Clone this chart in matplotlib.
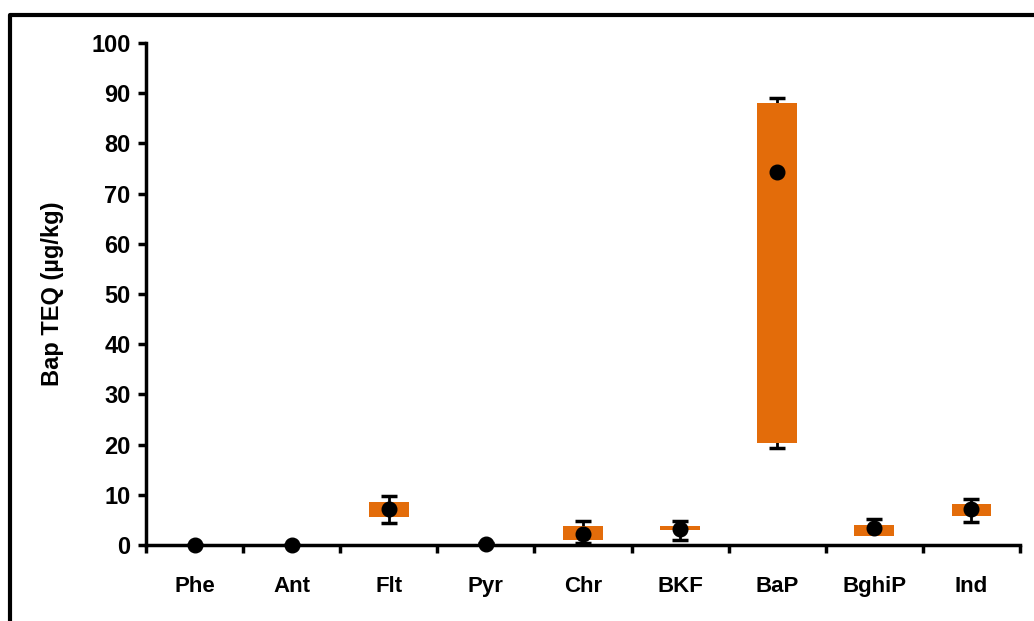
import matplotlib
matplotlib.use("Agg")
import matplotlib.pyplot as plt
from matplotlib.lines import Line2D
import numpy as np

# PAH compounds and their BaP TEQ statistics (ug/kg)
compuestos = ["Phe", "Ant", "Flt", "Pyr", "Chr", "BKF", "BaP", "BghiP", "Ind"]
q_inf = [0.0, 0.0, 5.6, 0.0, 0.9, 2.9, 20.3, 1.7, 5.8]
q_sup = [0.0, 0.0, 8.6, 0.0, 3.8, 3.8, 88.0, 4.0, 8.2]
minimo = [0.0, 0.0, 4.4, 0.1, 0.4, 1.0, 19.4, 2.6, 4.6]
maximo = [0.0, 0.0, 9.8, 0.3, 4.8, 4.8, 89.0, 5.2, 9.2]
media = [0.0, 0.0, 7.2, 0.2, 2.2, 3.1, 74.3, 3.3, 7.1]

plt.rcParams["font.family"] = ["Liberation Sans", "DejaVu Sans"]
plt.rcParams["font.weight"] = "bold"

fig = plt.figure(figsize=(10.34, 6.21), dpi=100)
ax = fig.add_axes([0.1412, 0.1224, 0.8453, 0.8084])

x = np.arange(len(compuestos))
alto = np.array(q_sup) - np.array(q_inf)
ax.bar(x, alto, bottom=q_inf, width=0.41, color="#E36C0A", zorder=2)

# whiskers sit behind the boxes, mean dots on top
media_arr = np.array(media)
yerr = [media_arr - np.array(minimo), np.array(maximo) - media_arr]
ax.errorbar(x, media, yerr=yerr, fmt="none", ecolor="black",
            elinewidth=2, capsize=6, capthick=2.5, zorder=1)
ax.plot(x, media, "o", color="black", markersize=10.5, zorder=4, clip_on=False)

ax.set_xlim(-0.5, len(compuestos) - 0.5)
ax.set_ylim(0, 100)
ax.set_yticks(range(0, 101, 10))
ax.set_xticks(x)
ax.set_xticklabels(compuestos)
ax.set_xticks(np.arange(-0.5, len(compuestos)), minor=True)

ax.tick_params(axis="y", direction="out", length=6, width=2.5, labelsize=17, pad=5)
ax.tick_params(axis="x", which="major", length=0, labelsize=16, pad=22)
ax.tick_params(axis="x", which="minor", direction="out", length=6, width=2.5)
for lab in ax.get_xticklabels() + ax.get_yticklabels():
    lab.set_fontweight("bold")

for lado in ["top", "right"]:
    ax.spines[lado].set_visible(False)
for lado in ["left", "bottom"]:
    ax.spines[lado].set_linewidth(2.5)

ax.set_ylabel("Bap TEQ (µg/kg)", fontsize=17, fontweight="bold", labelpad=20)

# outer frame (left and top edges)
fig.add_artist(Line2D([0.0097, 0.0097, 1.0], [0.0, 0.976, 0.976],
                      transform=fig.transFigure, color="black", linewidth=3))

fig.savefig("out.png", dpi=100)
